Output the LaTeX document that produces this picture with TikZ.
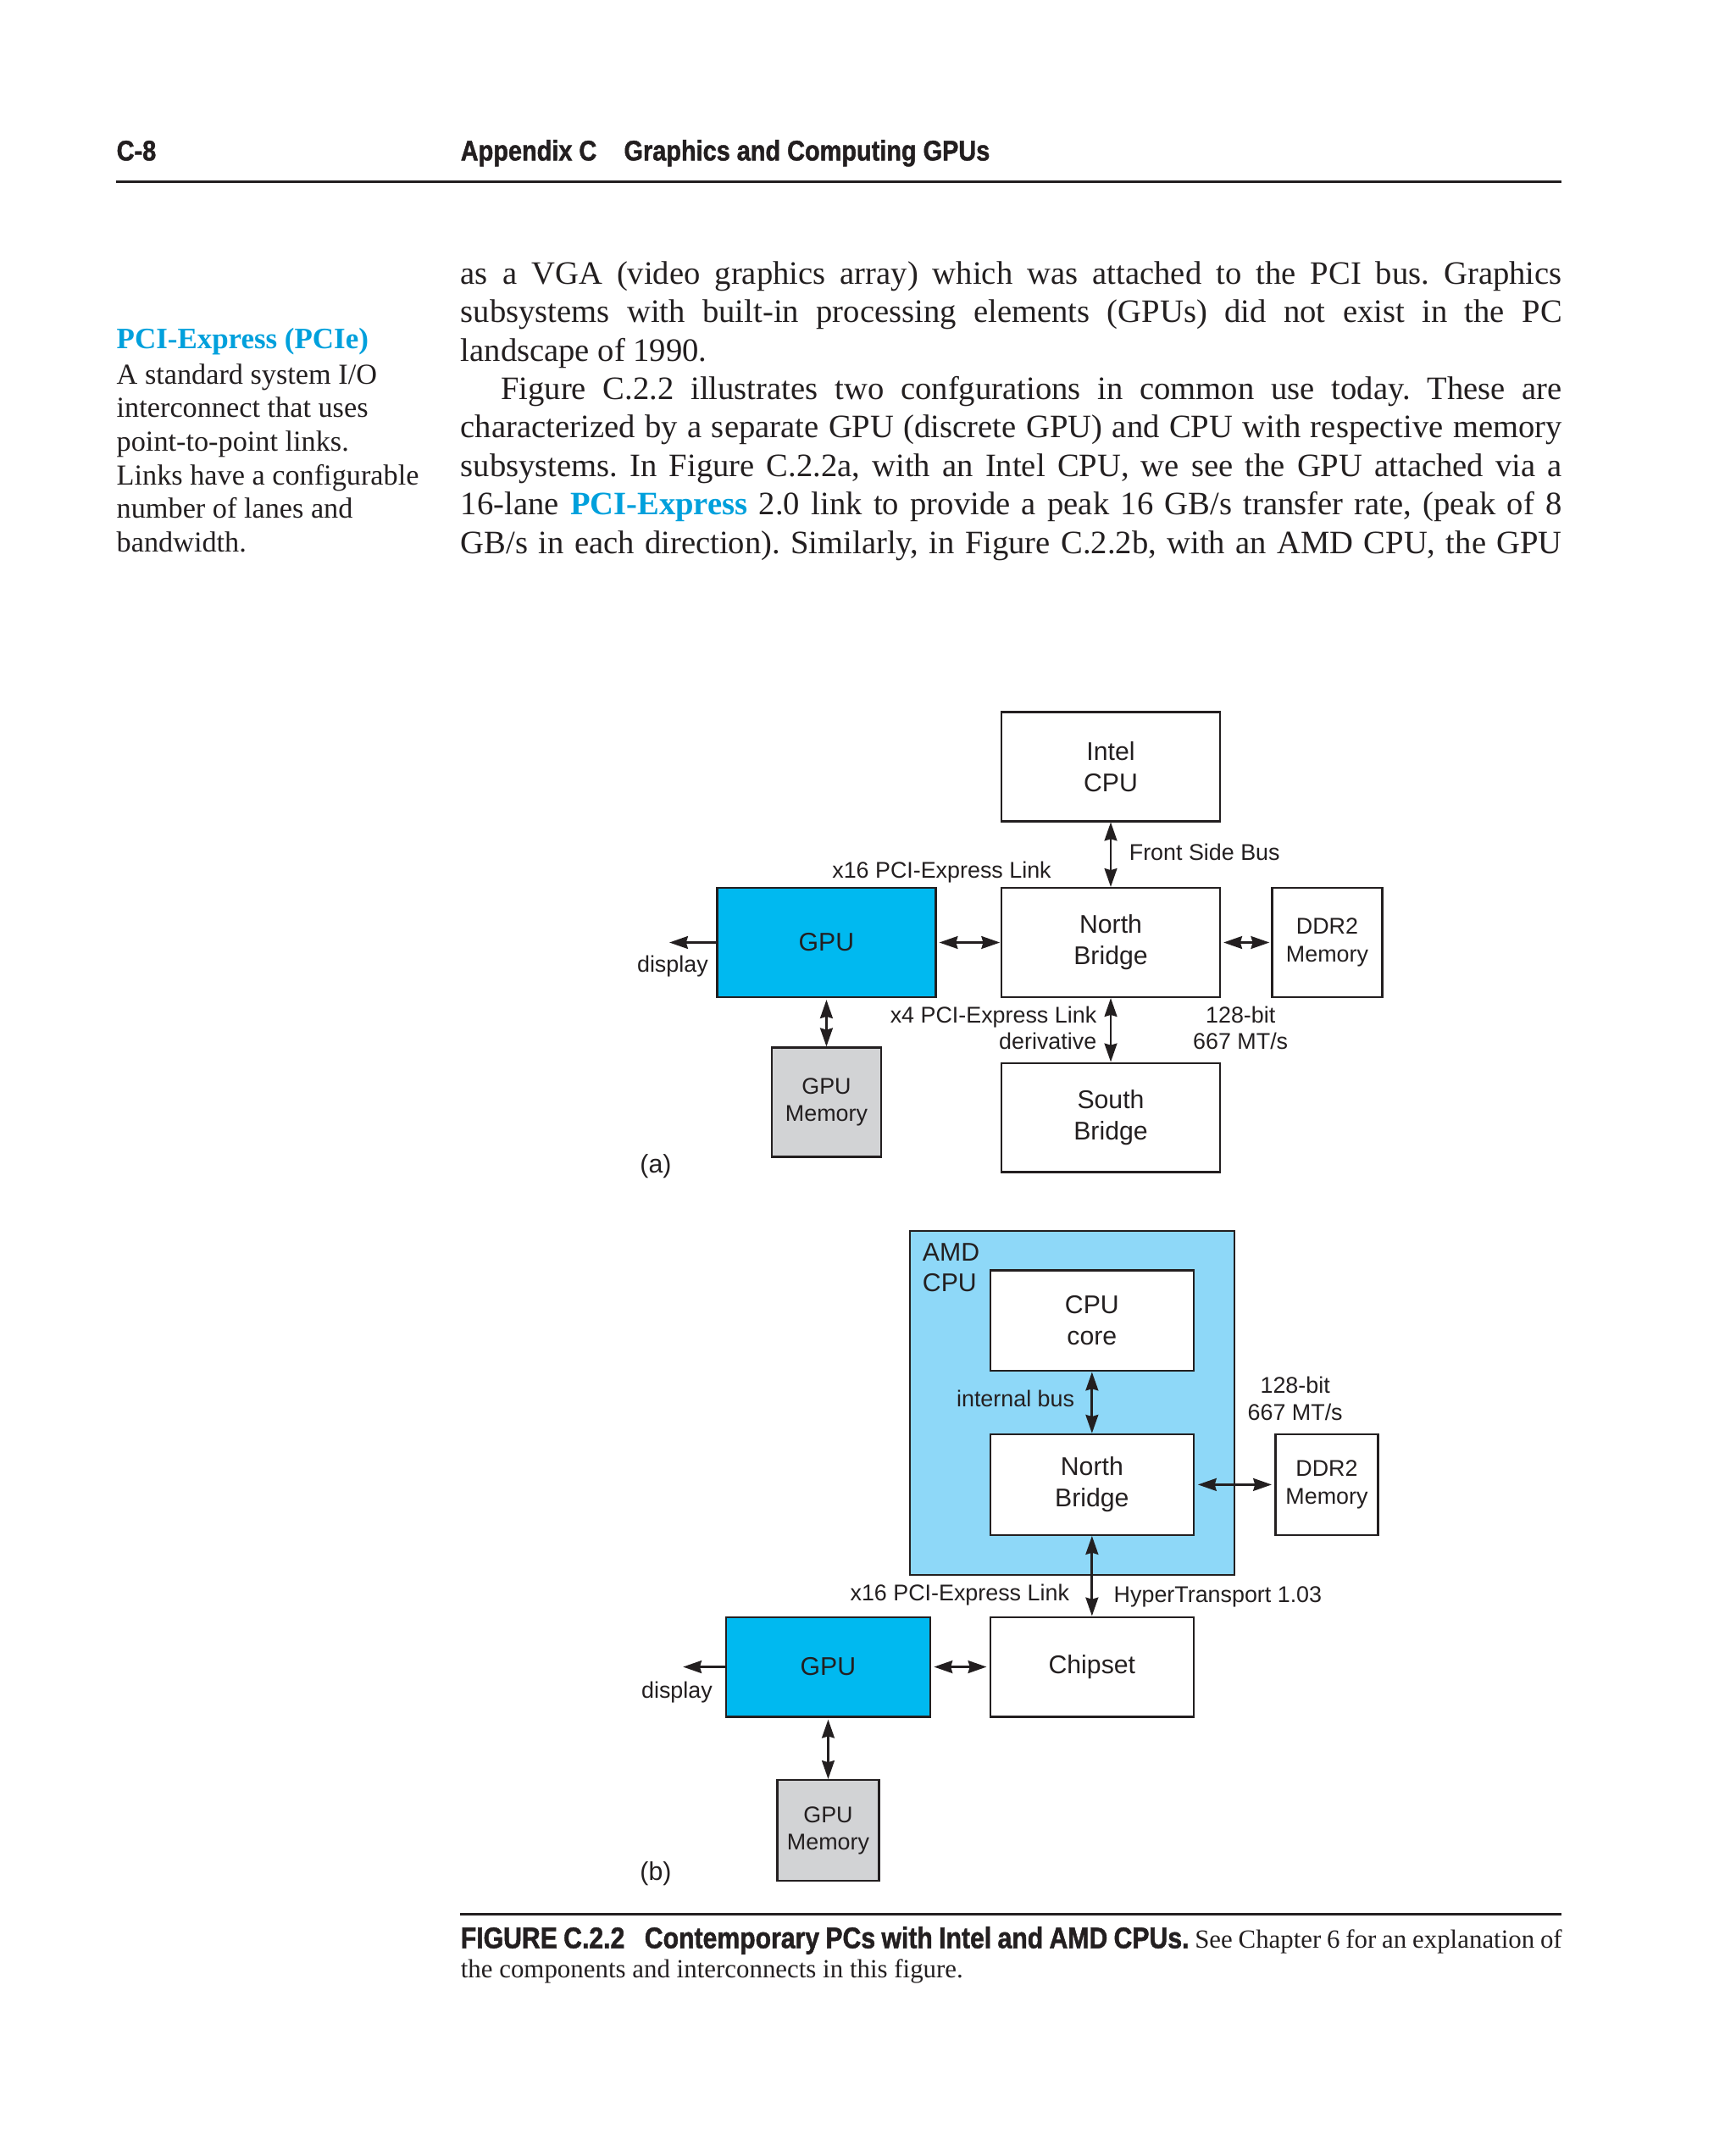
\documentclass[tikz,border=0pt]{standalone}
\usepackage{fontspec}
\setmainfont{Liberation Serif}
\setsansfont{Liberation Sans}
\newfontfamily\hdrfont[FakeStretch=0.86, BoldFeatures={FakeBold=1.3}]{Liberation Sans}
\usetikzlibrary{arrows.meta}
\definecolor{gpucyan}{RGB}{0,185,240}
\definecolor{amdblue}{RGB}{142,216,248}
\definecolor{memgray}{RGB}{210,211,213}
\definecolor{keycyan}{RGB}{0,160,220}
\definecolor{ink}{RGB}{35,31,32}
\frenchspacing
\begin{document}
\begin{tikzpicture}[x=0.3pt,y=-0.3pt,
  every node/.style={inner sep=0pt, text=ink},
  box/.style={draw=ink, line width=0.65pt, align=center, font=\sffamily\fontsize{9}{11}\selectfont},
  smallbox/.style={box, font=\sffamily\fontsize{8}{9.6}\selectfont},
  lbl/.style={font=\sffamily\fontsize{8}{9.6}\selectfont},
  figlbl/.style={font=\sffamily\fontsize{9}{11}\selectfont},
  bi/.style={draw=ink, line width=0.85pt, {Stealth[length=6.5pt,width=4.4pt,inset=0.6pt]}-{Stealth[length=6.5pt,width=4.4pt,inset=0.6pt]}},
  uni/.style={draw=ink, line width=0.85pt, -{Stealth[length=6.5pt,width=4.4pt,inset=0.6pt]}},
  bodyl/.style={anchor=base west, font=\fontsize{11.5}{13.5}\selectfont},
  margl/.style={anchor=base west, font=\fontsize{10.2}{12}\selectfont},
  hdr/.style={anchor=base west, font=\hdrfont\bfseries\fontsize{10}{12}\selectfont},
  rulez/.style={draw=ink, line width=0.9pt},
]
\useasboundingbox (0,0) rectangle (2032.4,2506.7);

% ---------- header ----------
\node[hdr] (pg) at (136,188) {C-8};
\node[hdr] (ttl) at (539,188) {Appendix C\hspace{9.6pt}Graphics and Computing GPUs};
\coordinate (r1a) at (136,213);
\coordinate (r1b) at (1829,213);
\draw[rulez] (r1a) -- (r1b);

% ---------- margin note ----------
\node[margl, font=\bfseries\fontsize{10.4}{12}\selectfont, text=keycyan] (mh) at (136,408) {PCI-Express (PCIe)};
\node[margl] (m1) at (136,450) {A standard system I/O};
\node[margl] (m2) at (136,489) {interconnect that uses};
\node[margl] (m3) at (136,528) {point-to-point links.};
\node[margl] (m4) at (136,568) {Links have a configurable};
\node[margl] (m5) at (136,607) {number of lanes and};
\node[margl] (m6) at (136,647) {bandwidth.};

% ---------- body ----------
\node[bodyl] (b1) at (539,333) {\makebox[387pt][s]{as a VGA (video graphics array) which was attached to the PCI bus. Graphics}};
\node[bodyl] (b2) at (539,378) {\makebox[387pt][s]{subsystems with built-in processing elements (GPUs) did not exist in the PC}};
\node[bodyl] (b3) at (539,423) {landscape of 1990.};
\node[bodyl] (b4) at (586,468) {\makebox[372.9pt][s]{Figure C.2.2 illustrates two confgurations in common use today. These are}};
\node[bodyl] (b5) at (539,513) {\makebox[387pt][s]{characterized by a separate GPU (discrete GPU) and CPU with respective memory}};
\node[bodyl] (b6) at (539,558) {\makebox[387pt][s]{subsystems. In Figure C.2.2a, with an Intel CPU, we see the GPU attached via a}};
\node[bodyl] (b7) at (539,603) {\makebox[387pt][s]{16-lane {\bfseries\color{keycyan}PCI-Express} 2.0 link to provide a peak 16 GB/s transfer rate, (peak of 8}};
\node[bodyl] (b8) at (539,648) {\makebox[387pt][s]{GB/s in each direction). Similarly, in Figure C.2.2b, with an AMD CPU, the GPU}};

% ---------- diagram (a) ----------
\node[box, minimum width=76.8pt, minimum height=38.4pt] (cpuA) at (1301,898) {Intel\\CPU};
\node[box, minimum width=76.8pt, minimum height=38.4pt] (nbA) at (1301,1104) {North\\Bridge};
\node[box, fill=gpucyan, minimum width=76.8pt, minimum height=38.4pt] (gpuA) at (968,1104) {GPU};
\node[smallbox, minimum width=38.7pt, minimum height=38.4pt] (ddrA) at (1554.5,1104) {DDR2\\Memory};
\node[smallbox, fill=memgray, minimum width=38.4pt, minimum height=38.4pt] (gmemA) at (968,1291) {GPU\\Memory};
\node[box, minimum width=76.8pt, minimum height=38.4pt] (sbA) at (1301,1309) {South\\Bridge};
\coordinate (dispA) at (784,1104);

\draw[bi] (cpuA.south) -- (nbA.north);
\draw[bi, shorten <=0.9pt, shorten >=0.2pt] (gpuA.east) -- (nbA.west);
\draw[bi, shorten <=0.9pt, shorten >=0.6pt] (nbA.east) -- (ddrA.west);
\draw[uni] (gpuA.west) -- (dispA);
\draw[bi, shorten <=0.6pt] (gpuA.south) -- (gmemA.north);
\draw[bi] (nbA.south) -- (sbA.north);

\node[lbl, anchor=base west] (fsb) at (1322,1008) {Front Side Bus};
\node[lbl, anchor=base] (x16A) at (1103,1029) {x16 PCI-Express Link};
\node[lbl, anchor=base east] (dlA) at (830,1139) {display};
\node[lbl, anchor=base east] (x4A) at (1285,1198) {x4 PCI-Express Link};
\node[lbl, anchor=base east] (derA) at (1285,1229) {derivative};
\node[lbl, anchor=base] (bitA) at (1453,1198) {128-bit};
\node[lbl, anchor=base] (mtA) at (1453,1229) {667 MT/s};
\node[figlbl, anchor=base west] (la) at (749,1374) {(a)};

% ---------- diagram (b) ----------
\node[draw=ink, line width=0.65pt, fill=amdblue, minimum width=114pt, minimum height=120.9pt] (amdB) at (1256,1643.5) {};
\node[figlbl, anchor=base west] (amd1) at (1080,1477) {AMD};
\node[figlbl, anchor=base west] (amd2) at (1080,1513) {CPU};
\node[box, fill=white, minimum width=71.4pt, minimum height=35.4pt] (coreB) at (1279,1547) {CPU\\core};
\node[box, fill=white, minimum width=71.4pt, minimum height=35.4pt] (nbB) at (1279,1739) {North\\Bridge};
\node[smallbox, minimum width=36pt, minimum height=35.4pt] (ddrB) at (1554,1739) {DDR2\\Memory};
\node[box, minimum width=71.4pt, minimum height=35.1pt] (chipB) at (1279,1952.5) {Chipset};
\node[box, fill=gpucyan, minimum width=71.7pt, minimum height=35.1pt] (gpuB) at (970,1952.5) {GPU};
\node[smallbox, fill=memgray, minimum width=35.7pt, minimum height=35.4pt] (gmemB) at (970,2144) {GPU\\Memory};
\coordinate (dispB) at (800,1952.5);

\draw[bi] (coreB.south) -- (nbB.north);
\draw[bi, shorten <=1.2pt, shorten >=1pt] (nbB.east) -- (ddrB.west);
\draw[bi] (nbB.south) -- (chipB.north);
\draw[bi, shorten <=1pt, shorten >=1pt] (gpuB.east) -- (chipB.west);
\draw[uni] (gpuB.west) -- (dispB);
\draw[bi, shorten <=0.6pt] (gpuB.south) -- (gmemB.north);

\node[lbl, anchor=base east] (ibus) at (1259,1648) {internal bus};
\node[lbl, anchor=base] (bitB) at (1517,1632) {128-bit};
\node[lbl, anchor=base] (mtB) at (1517,1664) {667 MT/s};
\node[lbl, anchor=base east] (x16B) at (1253,1875) {x16 PCI-Express Link};
\node[lbl, anchor=base west] (htB) at (1304,1877) {HyperTransport 1.03};
\node[lbl, anchor=base east] (dlB) at (835,1989) {display};
\node[figlbl, anchor=base west] (lb) at (749,2203) {(b)};

% ---------- caption ----------
\coordinate (r2a) at (539,2242);
\coordinate (r2b) at (1829,2242);
\draw[draw=ink, line width=0.8pt] (r2a) -- (r2b);
\node[anchor=base west, font=\fontsize{9.2}{11}\selectfont] (cap1) at (539,2282) {\makebox[387pt][s]{{\hdrfont\bfseries\fontsize{10.45}{12}\selectfont FIGURE C.2.2\hspace{7pt}Contemporary PCs with Intel and AMD CPUs.} See Chapter 6 for an explanation of}};
\node[anchor=base west, font=\fontsize{9.2}{11}\selectfont] (cap2) at (539,2317) {the components and interconnects in this figure.};
\end{tikzpicture}
\end{document}
